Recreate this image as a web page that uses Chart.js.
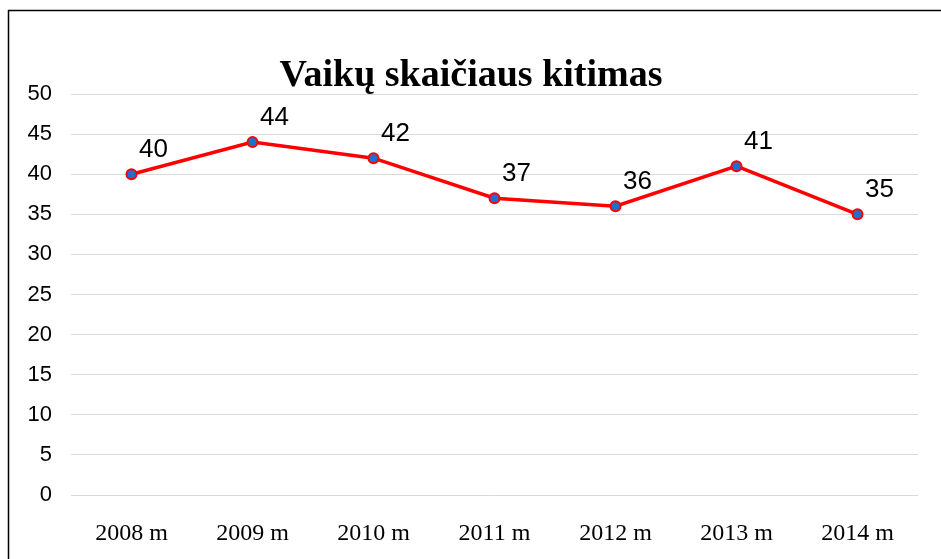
<!DOCTYPE html>
<html>
<head>
<meta charset="utf-8">
<script src="https://cdn.jsdelivr.net/npm/chart.js@4/dist/chart.umd.min.js"></script>
<style>
html,body{margin:0;padding:0;background:#fff;}
#wrap{width:941px;height:559px;position:relative;}
</style>
</head>
<body>
<div id="wrap"><canvas id="c" width="941" height="559"></canvas></div>
<script>
const categories = ["2008 m","2009 m","2010 m","2011 m","2012 m","2013 m","2014 m"];
const values = [40, 44, 42, 37, 36, 41, 35];
const yTicks = [0,5,10,15,20,25,30,35,40,45,50];
const titleText = "Vaikų skaičiaus kitimas";

const framePlugin = {
  id: 'frame',
  beforeDraw(chart) {
    const ctx = chart.ctx;
    ctx.save();
    ctx.fillStyle = '#fff';
    ctx.fillRect(0,0,chart.width,chart.height);
    ctx.strokeStyle = '#000';
    ctx.lineWidth = 1.5;
    ctx.beginPath();
    ctx.moveTo(8.5, chart.height + 2);
    ctx.lineTo(8.5, 10.5);
    ctx.lineTo(chart.width + 2, 10.5);
    ctx.stroke();
    ctx.restore();
  },
  afterDraw(chart) {
    const ctx = chart.ctx;
    ctx.save();
    ctx.fillStyle = '#000';
    ctx.font = 'bold 38px "Liberation Serif"';
    ctx.textAlign = 'center';
    ctx.textBaseline = 'middle';
    ctx.fillText(titleText, 471, 76);
    // data labels
    const meta = chart.getDatasetMeta(0);
    ctx.font = '26px "Liberation Sans"';
    ctx.fillStyle = '#000';
    meta.data.forEach((pt, i) => {
      ctx.fillText(String(values[i]), pt.x + 22, pt.y - 24);
    });
    ctx.restore();
  }
};

new Chart(document.getElementById('c'), {
  type: 'line',
  data: {
    labels: categories,
    datasets: [{
      data: values,
      borderColor: '#ff0000',
      borderWidth: 3.5,
      pointBackgroundColor: '#1f6fd1',
      pointBorderColor: '#ff0000',
      pointBorderWidth: 2,
      pointRadius: 5,
      tension: 0,
      fill: false
    }]
  },
  options: {
    responsive: false,
    animation: false,
    devicePixelRatio: 1,
    layout: { padding: { top: 94, right: 23, left: 0, bottom: 0 } },
    plugins: { legend: { display: false }, tooltip: { enabled: false }, title: { display: false } },
    scales: {
      x: {
        offset: true,
        grid: { display: false, drawTicks: false },
        border: { display: false },
        ticks: { color: '#000', font: { family: 'Liberation Serif', size: 24 }, padding: 24, maxRotation: 0 },
        afterFit(s) { s.height = 64; }
      },
      y: {
        min: 0, max: 50,
        afterBuildTicks(s) { s.ticks = yTicks.map(v => ({ value: v })); },
        grid: { color: '#d9d9d9', lineWidth: 1, drawTicks: false },
        border: { display: false },
        ticks: { color: '#000', font: { family: 'Liberation Sans', size: 22 }, padding: 19 },
        afterFit(s) { s.width = 71; }
      }
    }
  },
  plugins: [framePlugin]
});
</script>
</body>
</html>
